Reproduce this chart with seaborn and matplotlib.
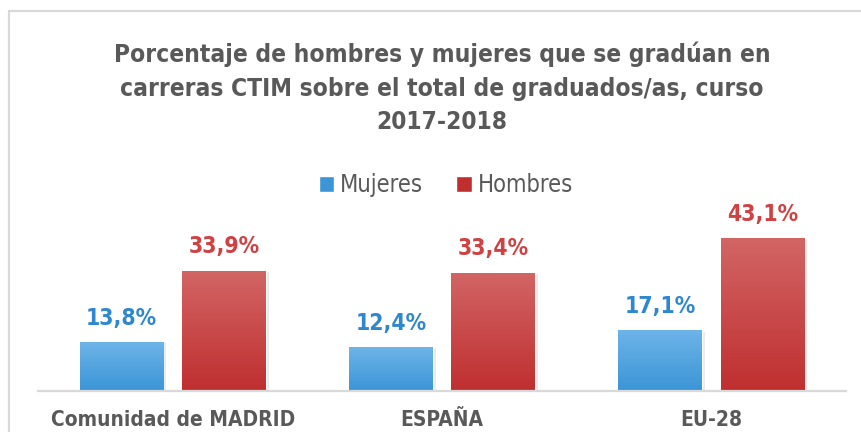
import numpy as np
import pandas as pd
import matplotlib
matplotlib.use('Agg')
import matplotlib.pyplot as plt
import matplotlib.patches as mpatches
import matplotlib.patheffects as pe
from matplotlib.colors import LinearSegmentedColormap
from matplotlib.lines import Line2D
import seaborn as sns

# Data
categories = ['Comunidad de MADRID', 'ESPAÑA', 'EU-28']
mujeres = [13.8, 12.4, 17.1]
hombres = [33.9, 33.4, 43.1]
series = ['Mujeres', 'Hombres']

title = ('Porcentaje de hombres y mujeres que se gradúan en\n'
         'carreras CTIM sobre el total de graduados/as, curso\n'
         '2017-2018')

# Colours (top and bottom of the gradient, label colour)
blue_top, blue_bot, blue_lab = '#6DB4E9', '#3B95D6', '#2F88CF'
red_top, red_bot, red_lab = '#D36565', '#BF2F30', '#CF4143'
grey_txt = '#595959'
grey_line = '#D9D9D9'

df = pd.DataFrame({
    'categoria': categories * 2,
    'serie': [series[0]] * 3 + [series[1]] * 3,
    'valor': mujeres + hombres,
})

sns.set_style('white')
plt.rcParams['font.family'] = ['DejaVu Sans']
plt.rcParams['font.stretch'] = 'condensed'

fig = plt.figure(figsize=(8.61, 4.32), dpi=100)
ax = fig.add_axes([38 / 861, 41 / 432, 808 / 861, 186 / 432])

sns.barplot(data=df, x='categoria', y='valor', hue='serie', order=categories,
            hue_order=series, palette=[blue_bot, red_bot], width=0.76, gap=0.18,
            legend=False, ax=ax)

# Gradient fill, soft shadow and value labels
grad = np.linspace(0, 1, 256).reshape(-1, 1)
for cont, (top, bot, lab) in zip(ax.containers, [(blue_top, blue_bot, blue_lab),
                                                 (red_top, red_bot, red_lab)]):
    cmap = LinearSegmentedColormap.from_list('g', [top, bot])
    for patch in cont.patches:
        x0, y0 = patch.get_x(), patch.get_y()
        x1, y1 = x0 + patch.get_width(), y0 + patch.get_height()
        patch.set_path_effects([pe.SimplePatchShadow(offset=(2, -1), shadow_rgbFace='#909090', alpha=0.18),
                                pe.Normal()])
        im = ax.imshow(grad, extent=(x0, x1, y0, y1), cmap=cmap, aspect='auto',
                       zorder=patch.get_zorder() + 0.1, interpolation='bicubic')
        im.set_clip_path(patch)
    ax.bar_label(cont, labels=[f'{v:.1f}%'.replace('.', ',') for v in cont.datavalues],
                 padding=9, color=lab, fontsize=16.5, fontweight='bold')

ax.set_ylim(0, 52.5)
ax.set_xlim(-0.5, 2.5)

# Axes styling
for s in ['top', 'right', 'left']:
    ax.spines[s].set_visible(False)
ax.spines['bottom'].set_color(grey_line)
ax.spines['bottom'].set_linewidth(1.6)
ax.set_yticks([])
ax.set_xlabel('')
ax.set_ylabel('')
ax.tick_params(axis='x', length=0, pad=14, labelsize=15, labelcolor=grey_txt)
for t in ax.get_xticklabels():
    t.set_fontweight('bold')

# Legend
handles = [mpatches.Patch(facecolor=blue_bot, label=series[0]),
           mpatches.Patch(facecolor=red_bot, label=series[1])]
fig.legend(handles=handles, loc='center', bbox_to_anchor=(446 / 861, 1 - 185 / 432),
           ncol=2, frameon=False, fontsize=17, handlelength=0.65, handleheight=0.65,
           handletextpad=0.25, columnspacing=1.4, labelcolor=grey_txt)

# Title
fig.text(442 / 861, 1 - 88 / 432, title, ha='center', va='center', fontsize=17.6,
         fontweight='bold', color=grey_txt, linespacing=1.5)

# Chart frame
fig.add_artist(Line2D([8.5 / 861, 1], [1 - 10.5 / 432] * 2, color=grey_line, lw=1.6))
fig.add_artist(Line2D([8.5 / 861] * 2, [0, 1 - 10.5 / 432], color=grey_line, lw=1.6))

fig.savefig('out.png', dpi=100)
